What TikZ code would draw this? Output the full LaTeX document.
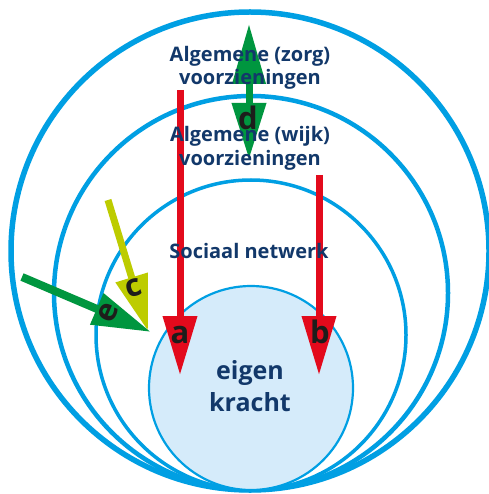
\documentclass[tikz,border=0pt]{standalone}
\usepackage{fontspec}
\setmainfont{Open Sans}
\usetikzlibrary{arrows.meta}
\definecolor{ringblue}{HTML}{009FE3}
\definecolor{corefill}{HTML}{D5EBFA}
\definecolor{navy}{HTML}{12386A}
\definecolor{flowred}{HTML}{E30A1C}
\definecolor{flowgreen}{HTML}{00963F}
\definecolor{flowlime}{HTML}{BDCC00}
\definecolor{letterink}{HTML}{1D1D1B}
\begin{document}
\begin{tikzpicture}[x=1pt,y=-1pt,
  ring/.style={draw=ringblue},
  lbl/.style={font=\bfseries\fontsize{20}{24}\selectfont, text=navy, anchor=base, inner sep=0pt},
  corelbl/.style={font=\bfseries\fontsize{25}{30}\selectfont, text=navy, anchor=base, inner sep=0pt},
  letter/.style={font=\bfseries\fontsize{31}{36}\selectfont, text=letterink, inner sep=0pt},
  flowhead/.style={-{Triangle[length=58pt,width=33pt]}},
  flow/.style={line width=7pt, flowhead},
]
\useasboundingbox[fill=white] (0,0) rectangle (488,494);

% nested rings, all touching at the bottom
\draw[ring, line width=5.5pt] (250,251) circle[radius=239pt];
\draw[ring, line width=4.5pt] (251,293) circle[radius=197pt];
\draw[ring, line width=3.5pt] (251,335) circle[radius=155pt];
\draw[ring, line width=2.2pt, fill=corefill] (251,388) circle[radius=102pt];

% end points of the flows
\coordinate (aS) at (180,90);   \coordinate (aT) at (180,375);
\coordinate (bS) at (319,175);  \coordinate (bT) at (319,375);
\coordinate (dT) at (249,24);   \coordinate (dB) at (249,159);
\coordinate (cS) at (108,200);  \coordinate (cT) at (148,331);
\coordinate (eS) at (22,277);   \coordinate (eT) at (151,332);

% flows
\draw[flow, draw=flowred, -{Triangle[length=59pt,width=33pt]}] (aS) -- (aT);
\draw[flow, draw=flowred, -{Triangle[length=59pt,width=33pt]}] (bS) -- (bT);
\draw[line width=7pt, draw=flowgreen,
      {Triangle[length=60pt,width=32pt]}-{Triangle[length=56pt,width=33pt]}] (dT) -- (dB);
\draw[line width=7pt, draw=flowlime, -{Triangle[length=56pt,width=32pt]}] (cS) -- (cT);
\draw[line width=8pt, draw=flowgreen, -{Triangle[length=59pt,width=32pt]}] (eS) -- (eT);

% ring labels
\node[lbl] (zorg1) at (250,61.5) {Algemene (zorg)};
\node[lbl] (zorg2) at (250,85) {voorzieningen};
\node[lbl] (wijk1) at (250,142) {Algemene (wijk)};
\node[lbl] (wijk2) at (250,165.5) {voorzieningen};
\node[lbl] (sociaal) at (249,258) {Sociaal netwerk};
\node[corelbl] (eigen) at (250,379) {eigen};
\node[corelbl] (kracht) at (250,411) {kracht};

% flow letters
\node[letter, anchor=base] (la) at (180,343) {a};
\node[letter, anchor=base] (lb) at (320,343) {b};
\node[letter, anchor=base] (ld) at (248,130) {d};
\node[letter, rotate=17] (lc) at (134,288) {c};
\node[letter, rotate=67] (le) at (108,313) {e};
\end{tikzpicture}
\end{document}
